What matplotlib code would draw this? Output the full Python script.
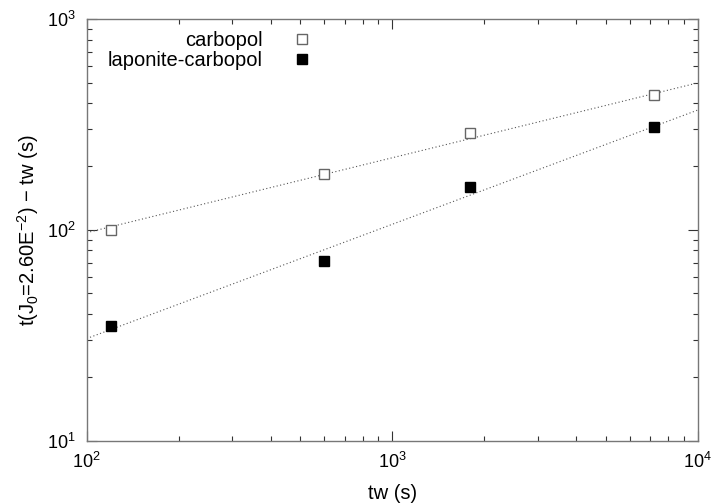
import matplotlib
matplotlib.use('Agg')
import matplotlib.pyplot as plt
from matplotlib.ticker import LogLocator, NullFormatter

plt.rcParams.update({
    'font.family': ['Liberation Sans', 'DejaVu Sans'],
    'font.size': 13,
    'mathtext.fontset': 'custom',
    'mathtext.rm': 'Liberation Sans',
    'mathtext.it': 'Liberation Sans',
})

# waiting time (s)
tw = [120, 600, 1800, 7200]
carbopol = [100, 184, 288, 436]
laponite_carbopol = [35, 71, 160, 308]

# power-law fit lines, end points over the plotted range
fit_x = [100, 10000]
carbopol_fit = [97, 498]
laponite_fit = [30.5, 370]

fig = plt.figure(figsize=(7.14, 5.03), dpi=100)
ax = fig.add_axes([0.1214, 0.124, 0.8556, 0.838])

line_style = dict(color='#555555', linewidth=0.8, linestyle=(0, (1, 2.2)))
ax.plot(fit_x, carbopol_fit, **line_style)
ax.plot(fit_x, laponite_fit, **line_style)

ax.plot(tw, carbopol, 's', markersize=7.8, markerfacecolor='white',
        markeredgecolor='#666666', markeredgewidth=1.0, label='carbopol')
ax.plot(tw, laponite_carbopol, 's', markersize=7.8, markerfacecolor='black',
        markeredgecolor='black', label='laponite-carbopol')

ax.set_xscale('log')
ax.set_yscale('log')
ax.set_xlim(1e2, 1e4)
ax.set_ylim(1e1, 1e3)

ax.xaxis.set_minor_locator(LogLocator(base=10, subs=range(2, 10)))
ax.yaxis.set_minor_locator(LogLocator(base=10, subs=range(2, 10)))
ax.xaxis.set_minor_formatter(NullFormatter())
ax.yaxis.set_minor_formatter(NullFormatter())

ax.tick_params(which='both', direction='in', top=True, right=True,
               color='#333333', width=0.8)
ax.tick_params(which='major', length=7, pad=8)
ax.tick_params(which='minor', length=3.5)
for sp in ax.spines.values():
    sp.set_color('#777777')
    sp.set_linewidth(1.0)

ax.set_xlabel('tw (s)', labelpad=9, fontsize=14.5)
ax.set_ylabel(r't(J$_0$=2.60E$^{-2}$) $-$ tw (s)', labelpad=4, fontsize=14.5)

ax.legend(loc='upper right', bbox_to_anchor=(0.391, 1.005), frameon=False,
          markerfirst=False, handlelength=0.9, handletextpad=1.5,
          labelspacing=0.05, borderpad=0.2, fontsize=14.5)
leg = ax.get_legend()
for t in leg.get_texts():
    t.set_ha('right')
leg._legend_box.align = 'right'

fig.savefig('out.png', dpi=100)
